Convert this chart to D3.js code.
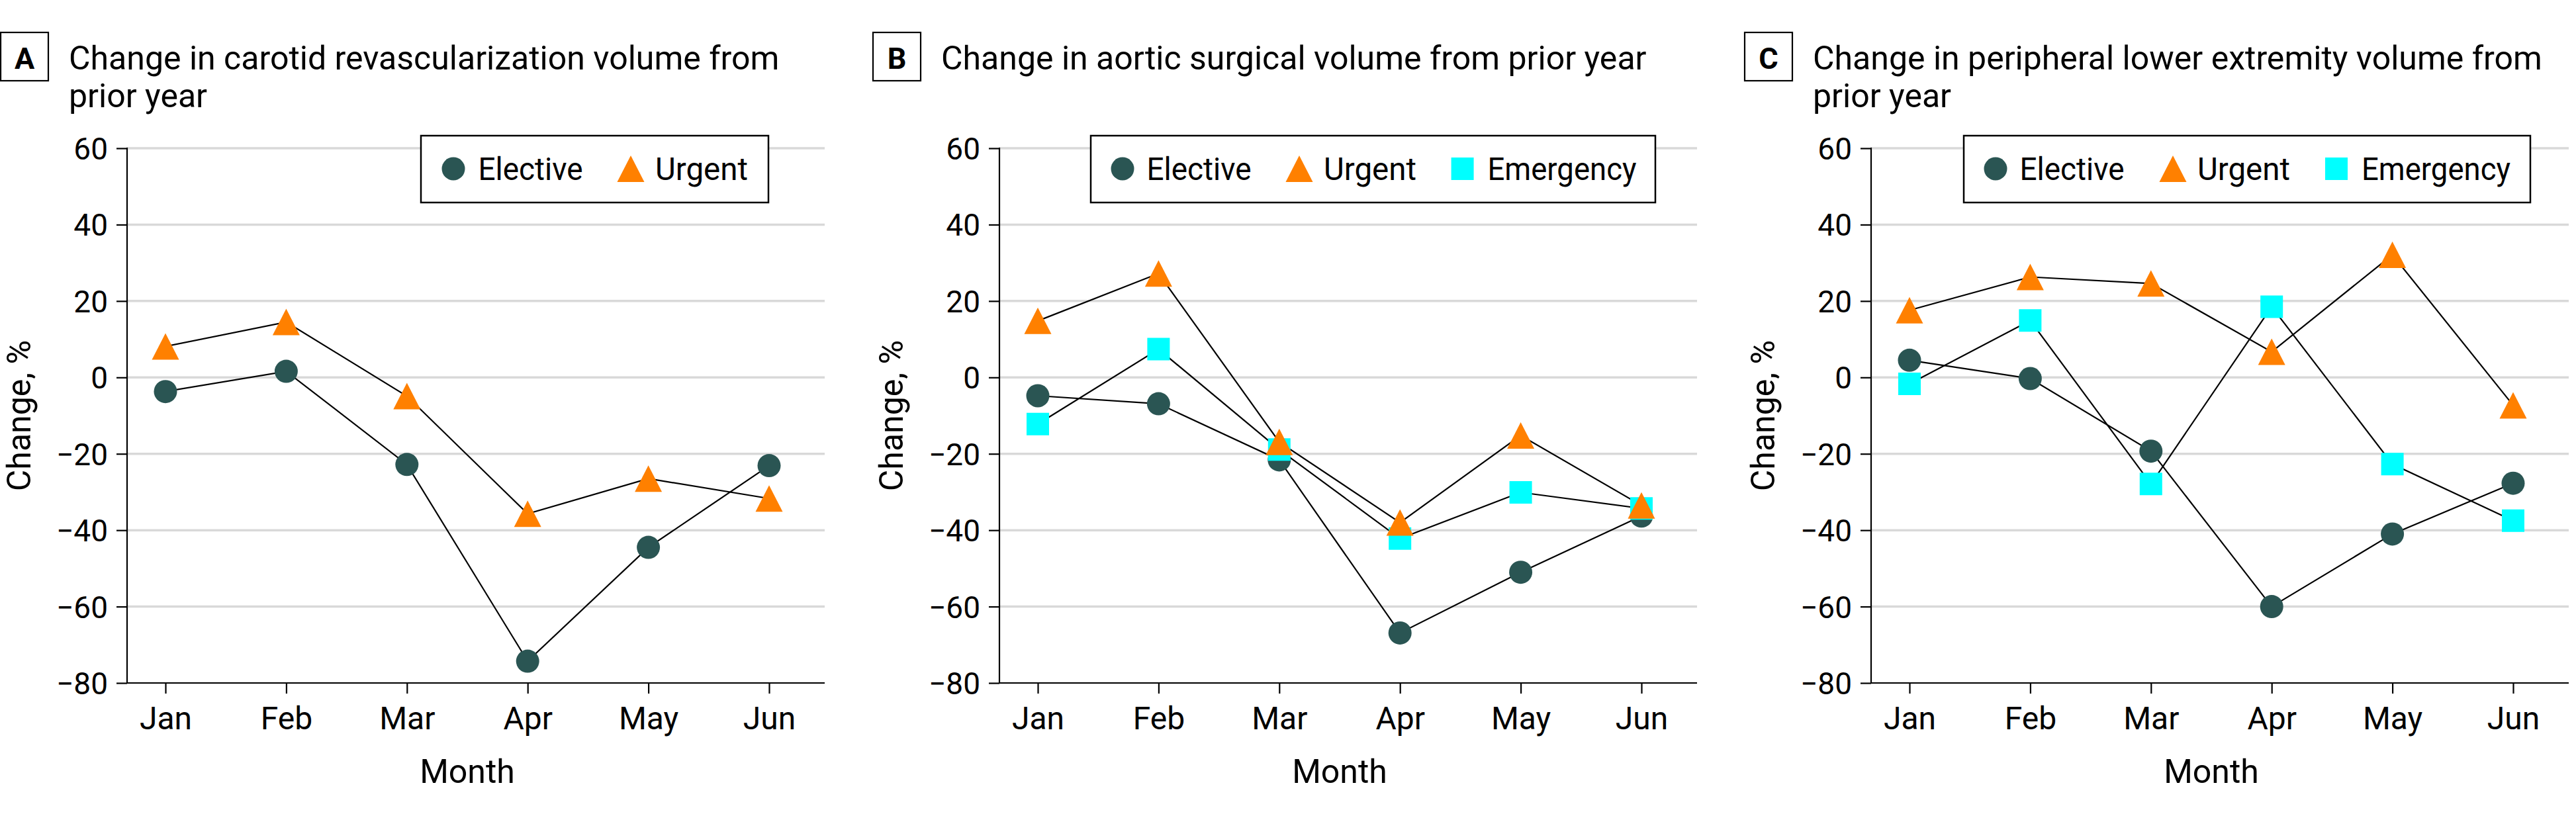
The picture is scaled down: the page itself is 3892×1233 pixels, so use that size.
<!DOCTYPE html>
<html>
<head>
<meta charset="utf-8">
<script src="https://cdn.jsdelivr.net/npm/d3@7"></script>
<style>
  html, body { margin: 0; padding: 0; background: #ffffff; }
  svg { display: block; }
  text { font-family: Roboto, "Open Sans", sans-serif; fill: #000; }
</style>
</head>
<body>
<div id="chart"></div>
<script>
// ---------------- DATA ----------------
const months = ["Jan", "Feb", "Mar", "Apr", "May", "Jun"];
const yTicks = [60, 40, 20, 0, -20, -40, -60, -80];

const carotidElective = [-3.7, 1.6, -22.8, -74.3, -44.5, -23.1];
const carotidUrgent   = [8.1, 14.5, -4.9, -35.7, -26.5, -31.7];

const aorticElective  = [-4.8, -6.9, -21.6, -66.9, -51.0, -36.3];
const aorticUrgent    = [14.8, 27.2, -16.9, -38.0, -15.2, -33.5];
const aorticEmergency = [-12.2, 7.4, -18.9, -42.2, -30.1, -34.3];

const peripheralElective  = [4.5, -0.3, -19.3, -60.0, -41.0, -27.7];
const peripheralUrgent    = [17.6, 26.3, 24.6, 6.7, 32.1, -7.3];
const peripheralEmergency = [-1.7, 14.9, -27.9, 18.5, -22.7, -37.5];

const titleA = ["Change in carotid revascularization volume from", "prior year"];
const titleB = ["Change in aortic surgical volume from prior year"];
const titleC = ["Change in peripheral lower extremity volume from", "prior year"];

const seriesNames = ["Elective", "Urgent", "Emergency"];
const xAxisTitle = "Month";
const yAxisTitle = "Change, %";

// ---------------- STYLE / LAYOUT ----------------
const W = 3892, H = 1233;
const colors = { Elective: "#2a5553", Urgent: "#ff8000", Emergency: "#00ffff" };
const shapeOf = { Elective: "circle", Urgent: "triangle", Emergency: "square" };
const legendTextWidth = { Elective: 158, Urgent: 140, Emergency: 225 };

const triType = { draw(ctx) { ctx.moveTo(0, -20); ctx.lineTo(20.5, 20); ctx.lineTo(-20.5, 20); ctx.closePath(); } };
const sqType  = { draw(ctx) { ctx.rect(-17, -17, 34, 34); } };
const symbolPath = {
  circle: d3.symbol().type(d3.symbolCircle).size(Math.PI * 17.5 * 17.5)(),
  triangle: d3.symbol().type(triType)(),
  square: d3.symbol().type(sqType)()
};

const panels = [
  { letter: "A", x0: 0, title: titleA,
    series: { Elective: carotidElective, Urgent: carotidUrgent },
    legend: { box: [636, 1161], items: [["Elective", 685, 722.5], ["Urgent", 953, 990]] } },
  { letter: "B", x0: 1318, title: titleB,
    series: { Elective: aorticElective, Urgent: aorticUrgent, Emergency: aorticEmergency },
    legend: { box: [330, 1183], items: [["Elective", 378, 414.5], ["Urgent", 645, 682], ["Emergency", 891.6, 929.5]] } },
  { letter: "C", x0: 2635, title: titleC,
    series: { Elective: peripheralElective, Urgent: peripheralUrgent, Emergency: peripheralEmergency },
    legend: { box: [332, 1188], items: [["Elective", 380, 416.5], ["Urgent", 648, 685], ["Emergency", 895, 933]] } }
];

const axisX = 192, plotRight = 1246, yTop = 224, yBottom = 1032;

const svg = d3.select("#chart").append("svg")
  .attr("width", W).attr("height", H)
  .attr("viewBox", `0 0 ${W} ${H}`);
svg.append("rect").attr("width", W).attr("height", H).attr("fill", "#fff");

const y = d3.scaleLinear().domain([-80, 60]).range([yBottom, yTop]);
const x = d3.scalePoint().domain(months).range([250, 1162]);

panels.forEach(p => {
  const g = svg.append("g").attr("transform", `translate(${p.x0},0)`);

  // Panel letter box
  g.append("rect").attr("x", 1).attr("y", 49).attr("width", 72).attr("height", 73)
    .attr("fill", "#fff").attr("stroke", "#000").attr("stroke-width", 2.2);
  g.append("text").attr("x", 37).attr("y", 104).attr("text-anchor", "middle")
    .style("font-size", "45px").style("font-weight", "bold").text(p.letter);

  // Title
  p.title.forEach((line, i) => {
    g.append("text").attr("x", 104).attr("y", 105 + i * 57)
      .style("font-size", "50px").text(line);
  });

  // Gridlines
  g.append("g").selectAll("line").data(yTicks.filter(t => t !== -80)).join("line")
    .attr("x1", axisX).attr("x2", plotRight)
    .attr("y1", d => y(d)).attr("y2", d => y(d))
    .attr("stroke", "#d9d9d9").attr("stroke-width", 3.5);

  // Y axis
  const ya = g.append("g").attr("transform", `translate(${axisX},0)`)
    .call(d3.axisLeft(y).tickValues(yTicks).tickSize(16).tickSizeOuter(0).tickPadding(13));
  ya.select(".domain").remove();
  ya.selectAll(".tick line").attr("stroke", "#000").attr("stroke-width", 2.2);
  ya.selectAll(".tick text").style("font-size", "46px").attr("dy", "0.36em")
    .style("font-family", "Roboto, sans-serif").attr("fill", "#000");

  // X axis
  const xa = g.append("g").attr("transform", `translate(0,${yBottom})`)
    .call(d3.axisBottom(x).tickSize(16).tickSizeOuter(0).tickPadding(20));
  xa.select(".domain").remove();
  xa.selectAll(".tick line").attr("stroke", "#000").attr("stroke-width", 2.2);
  xa.selectAll(".tick text").style("font-size", "48px")
    .style("font-family", "Roboto, sans-serif").attr("fill", "#000");

  // Axis lines
  g.append("line").attr("x1", axisX).attr("x2", axisX).attr("y1", yTop - 1).attr("y2", yBottom + 1)
    .attr("stroke", "#000").attr("stroke-width", 2.2);
  g.append("line").attr("x1", axisX).attr("x2", plotRight).attr("y1", yBottom).attr("y2", yBottom)
    .attr("stroke", "#000").attr("stroke-width", 2.2);

  // Axis titles
  g.append("text").attr("x", (x("Jan") + x("Jun")) / 2).attr("y", 1183)
    .attr("text-anchor", "middle").style("font-size", "50px").text(xAxisTitle);
  g.append("text").attr("transform", `translate(46,${(yTop + yBottom) / 2}) rotate(-90)`)
    .attr("text-anchor", "middle").style("font-size", "50px").text(yAxisTitle);

  // Lines
  const lineGen = d3.line().x((d, i) => x(months[i])).y(d => y(d));
  const order = ["Elective", "Emergency", "Urgent"].filter(k => p.series[k]);
  order.forEach(k => {
    g.append("path").datum(p.series[k]).attr("d", lineGen)
      .attr("fill", "none").attr("stroke", "#000").attr("stroke-width", 2.2);
  });
  // Markers
  order.forEach(k => {
    g.append("g").selectAll("path").data(p.series[k]).join("path")
      .attr("d", symbolPath[shapeOf[k]])
      .attr("transform", (d, i) => `translate(${x(months[i])},${y(d)})`)
      .attr("fill", colors[k]);
  });

  // Legend
  const lg = g.append("g");
  lg.append("rect").attr("x", p.legend.box[0]).attr("y", 205)
    .attr("width", p.legend.box[1] - p.legend.box[0]).attr("height", 101)
    .attr("fill", "#fff").attr("stroke", "#000").attr("stroke-width", 2.5);
  p.legend.items.forEach(([name, mx, tx]) => {
    lg.append("path").attr("d", symbolPath[shapeOf[name]])
      .attr("transform", `translate(${mx},255)`).attr("fill", colors[name]);
    lg.append("text").attr("x", tx).attr("y", 272).style("font-size", "48px")
      .attr("textLength", legendTextWidth[name]).attr("lengthAdjust", "spacingAndGlyphs")
      .text(name);
  });
});
</script>
</body>
</html>
